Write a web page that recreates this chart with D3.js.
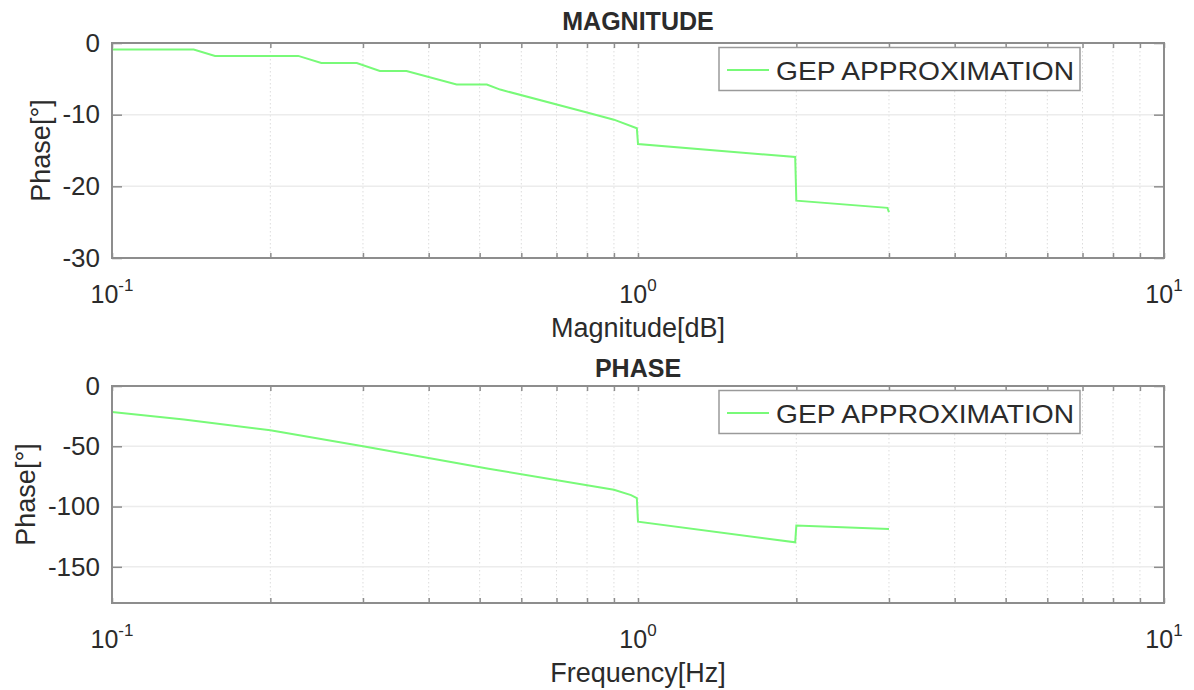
<!DOCTYPE html>
<html>
<head>
<meta charset="utf-8">
<script src="https://cdn.jsdelivr.net/npm/d3@7"></script>
<style>
  html, body { margin: 0; padding: 0; background: #fff; }
  svg { display: block; }
  text { font-family: "Liberation Sans", Arial, sans-serif; fill: #2b2b2b; }
</style>
</head>
<body>
<svg id="chart" width="1194" height="690"></svg>
<script>
// ---------- data ----------
const magFreq  = [0.1, 0.143, 0.157, 0.226, 0.25, 0.292, 0.323, 0.363, 0.452, 0.516, 0.547, 0.8, 0.9, 0.995, 1.0, 1.99, 2.0, 2.98, 3.0];
const magVals  = [-0.9, -0.9, -1.8, -1.8, -2.8, -2.8, -3.9, -3.9, -5.8, -5.8, -6.5, -9.7, -10.7, -11.9, -14.1, -15.9, -22.0, -23.0, -23.6];

const phaseFreq = [0.1, 0.137, 0.2, 0.3, 0.52, 0.9, 0.97, 0.995, 1.0, 1.99, 2.0, 3.0];
const phaseVals = [-21.5, -27.8, -36.7, -50, -68.6, -86, -90.5, -93, -112.5, -129.7, -115.8, -118.6];

const magTicks   = [0, -10, -20, -30];
const phaseTicks = [0, -50, -100, -150];
const decadeExps = [-1, 0, 1];
const seriesName = "GEP APPROXIMATION";

// ---------- layout ----------
const svg = d3.select("#chart");
const xL = 112, xR = 1164;
const x = d3.scaleLog().domain([0.1, 10]).range([xL, xR]);
const lineColor = "#78fa78";
const axisColor = "#8d8d8d";

const panels = [
  { y0: 43, y1: 258, domain: [-30, 0], ticks: magTicks, title: "MAGNITUDE", titleY: 30,
    xlabel: "Magnitude[dB]", ylabel: "Phase[°]", ylabelX: 50, freq: magFreq, vals: magVals },
  { y0: 386, y1: 603, domain: [-180, 0], ticks: phaseTicks, title: "PHASE", titleY: 377,
    xlabel: "Frequency[Hz]", ylabel: "Phase[°]", ylabelX: 35, freq: phaseFreq, vals: phaseVals }
];

panels.forEach(p => {
  const y = d3.scaleLinear().domain(p.domain).range([p.y1, p.y0]);
  const g = svg.append("g");

  // grid: vertical dotted at all log ticks
  const allX = x.ticks().filter(v => v > 0.1 * 1.0001 && v < 10 * 0.9999);
  g.append("g").selectAll("line").data(allX).join("line")
    .attr("x1", d => x(d)).attr("x2", d => x(d))
    .attr("y1", p.y0).attr("y2", p.y1)
    .attr("stroke", "#dcdcdc").attr("stroke-width", 1)
    .attr("stroke-dasharray", "1.5,2.5");
  // grid: horizontal at y ticks
  g.append("g").selectAll("line").data(p.ticks.filter(t => t !== p.domain[0] && t !== p.domain[1])).join("line")
    .attr("x1", xL).attr("x2", xR)
    .attr("y1", d => y(d)).attr("y2", d => y(d))
    .attr("stroke", "#ececec").attr("stroke-width", 1.5);

  // data line
  const line = d3.line().x(d => x(d[0])).y(d => y(d[1]));
  g.append("path")
    .datum(p.freq.map((f, i) => [f, p.vals[i]]))
    .attr("d", line)
    .attr("fill", "none")
    .attr("stroke", lineColor)
    .attr("stroke-width", 2);

  // x axes (bottom and top) with inward ticks
  const xTickVals = x.ticks();
  const xb = d3.axisBottom(x).tickValues(xTickVals).tickSize(-5).tickFormat("");
  const xt = d3.axisTop(x).tickValues(xTickVals).tickSize(-5).tickFormat("");
  [ [xb, p.y1], [xt, p.y0] ].forEach(([ax, ty]) => {
    const a = g.append("g").attr("transform", `translate(0,${ty})`).call(ax);
    a.select(".domain").remove();
    a.selectAll(".tick line").attr("stroke", axisColor).attr("stroke-width", 1.5);
  });

  // y axes (left and right) with inward ticks
  const yl = d3.axisLeft(y).tickValues(p.ticks).tickSize(-10).tickPadding(12).tickFormat(d => String(d));
  const yr = d3.axisRight(y).tickValues(p.ticks).tickSize(-10).tickFormat("");
  const ayl = g.append("g").attr("transform", `translate(${xL},0)`).call(yl);
  const ayr = g.append("g").attr("transform", `translate(${xR},0)`).call(yr);
  [ayl, ayr].forEach(a => {
    a.select(".domain").remove();
    a.selectAll(".tick line").attr("stroke", axisColor).attr("stroke-width", 1.5);
  });
  ayl.selectAll(".tick text")
    .attr("font-size", 26).attr("fill", "#2b2b2b")
    .attr("font-family", "Liberation Sans, Arial, sans-serif")
    .attr("x", -12);

  // box
  g.append("rect").attr("x", xL).attr("y", p.y0)
    .attr("width", xR - xL).attr("height", p.y1 - p.y0)
    .attr("fill", "none").attr("stroke", axisColor).attr("stroke-width", 2);

  // decade labels with superscripts
  const lab = g.append("g").selectAll("text").data(decadeExps).join("text")
    .attr("x", d => x(Math.pow(10, d)))
    .attr("y", p.y1 + 45)
    .attr("text-anchor", "middle")
    .attr("font-size", 25);
  lab.append("tspan").text("10");
  lab.append("tspan").attr("font-size", 17).attr("dy", -12).text(d => String(d));

  // title
  g.append("text").attr("x", x(1)).attr("y", p.titleY)
    .attr("text-anchor", "middle").attr("font-size", 25).attr("font-weight", "bold")
    .attr("fill", "#111").text(p.title);

  // x label
  g.append("text").attr("x", x(1)).attr("y", p.y1 + 79)
    .attr("text-anchor", "middle").attr("font-size", 27).text(p.xlabel);

  // y label
  g.append("text")
    .attr("transform", `translate(${p.ylabelX},${(p.y0 + p.y1) / 2}) rotate(-90)`)
    .attr("text-anchor", "middle").attr("font-size", 27).text(p.ylabel);

  // legend
  const lg = g.append("g");
  lg.append("rect").attr("x", 719).attr("y", p.y0 + 4.5).attr("width", 361).attr("height", 43)
    .attr("fill", "#fff").attr("stroke", "#9a9a9a").attr("stroke-width", 1.5);
  lg.append("line").attr("x1", 727).attr("x2", 769).attr("y1", p.y0 + 27).attr("y2", p.y0 + 27)
    .attr("stroke", lineColor).attr("stroke-width", 2);
  lg.append("text").attr("x", 776).attr("y", p.y0 + 37)
    .attr("font-size", 26).attr("textLength", 298).attr("lengthAdjust", "spacingAndGlyphs")
    .text(seriesName);
});
</script>
</body>
</html>
